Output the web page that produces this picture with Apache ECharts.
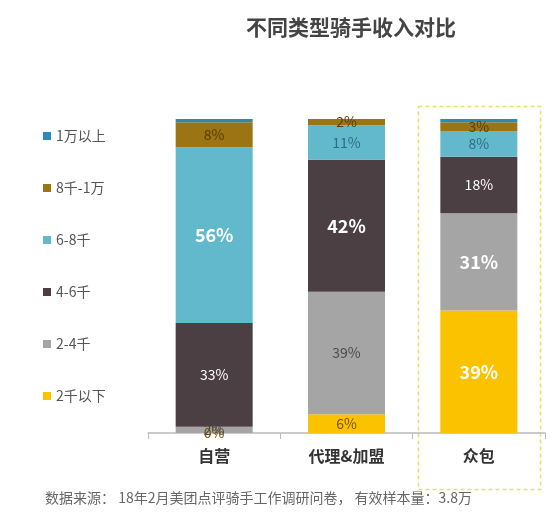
<!DOCTYPE html>
<html>
<head>
<meta charset="utf-8">
<script src="https://cdn.jsdelivr.net/npm/echarts@6/dist/echarts.min.js"></script>
<style>
  html, body { margin: 0; padding: 0; background: #fff; }
  #chart { width: 556px; height: 515px; }
</style>
</head>
<body>
<div id="chart"></div>
<script>
// categories
const categories = ['自营', '代理&加盟', '众包'];
// income bands, bottom of the stack first
const bands = ['2千以下', '2-4千', '4-6千', '6-8千', '8千-1万', '1万以上'];
// share per band (%), one value per category
const below2k = [0, 6, 39];
const from2to4k = [2, 39, 31];
const from4to6k = [33, 42, 18];
const from6to8k = [56, 11, 8];
const from8kTo10k = [8, 2, 3];
const above10k = [1, 0, 1];

const values = [below2k, from2to4k, from4to6k, from6to8k, from8kTo10k, above10k];
const colors = ['#fbc200', '#a6a5a6', '#4b3f44', '#62b9cb', '#9c7414', '#2a8ab8'];
// label colour for the plain labels of each band
const labelColors = ['#7a5200', '#4a4a4a', '#ffffff', '#2d6e7e', '#5a3e08', '#ffffff'];
// which cells get the big white bold label
const bigLabel = [[false, false, true], [false, false, true], [false, true, false], [true, false, false], [false, false, false], [false, false, false]];

const font = '"Noto Sans CJK SC", "Noto Sans", sans-serif';

const series = bands.map((name, i) => ({
  name: name,
  type: 'bar',
  stack: 'all',
  barWidth: 77,
  itemStyle: { color: colors[i] },
  label: {
    show: i !== 5,
    position: 'inside',
    formatter: '{c}%',
    fontFamily: font,
    fontSize: 14,
    color: labelColors[i]
  },
  data: values[i].map((v, j) => bigLabel[i][j]
    ? { value: v, label: { color: '#fff', fontSize: 18, fontWeight: 'bold' } }
    : v)
}));

const chart = echarts.init(document.getElementById('chart'));
chart.setOption({
  animation: false,
  textStyle: { fontFamily: font },
  title: [
    {
      text: '不同类型骑手收入对比',
      left: 346, top: 12, textAlign: 'center',
      textStyle: { fontSize: 21, fontWeight: 'bold', color: '#444', fontFamily: font }
    },
    {
      text: '数据来源： 18年2月美团点评骑手工作调研问卷， 有效样本量：3.8万',
      left: 40, top: 486,
      textStyle: { fontSize: 14, fontWeight: 'normal', color: '#666', fontFamily: font }
    }
  ],
  legend: {
    orient: 'vertical',
    left: 38, top: 124,
    itemWidth: 8, itemHeight: 8, itemGap: 38,
    icon: 'rect',
    data: bands.slice().reverse(),
    textStyle: { fontSize: 14, color: '#555', fontFamily: font }
  },
  grid: { left: 148, right: 11, top: 119, bottom: 82, containLabel: false },
  xAxis: {
    type: 'category',
    data: categories,
    axisLine: { lineStyle: { color: '#bbbbbb', width: 1.5 } },
    axisTick: { show: true, length: 6, lineStyle: { color: '#bbbbbb' } },
    axisLabel: { fontSize: 16, fontWeight: 'bold', color: '#333', margin: 15, fontFamily: font }
  },
  yAxis: { type: 'value', min: 0, max: 100, show: false },
  graphic: [{
    type: 'rect',
    left: 416, top: 104,
    shape: { width: 122, height: 383 },
    style: { fill: 'none', stroke: '#e2e36a', lineWidth: 1.5, lineDash: [4, 3] },
    z: 0
  }],
  series: series
});
</script>
</body>
</html>
